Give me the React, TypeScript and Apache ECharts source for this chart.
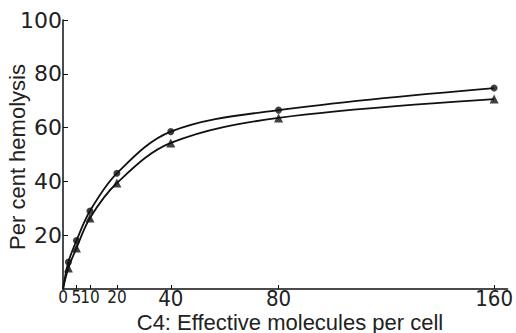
import React, { useEffect, useRef } from "react";
import * as echarts from "echarts";

const doses = [2, 5, 10, 20, 40, 80, 160];
const circleHemolysis = [10, 18, 29, 43, 58.5, 66.5, 74.7];
const triangleHemolysis = [7.8, 15.2, 26.4, 39.4, 54.3, 63.6, 70.6];
const curveOrigin = [0, 0];
const xTickValues = [0, 5, 10, 20, 40, 80, 160];
const smallXLabels = [0, 5, 10, 20];
const yTickValues = [20, 40, 60, 80, 100];
const xTitle = "C4: Effective molecules per cell";
const yTitle = "Per cent hemolysis";

const NARROW = "'Liberation Sans Narrow', 'DejaVu Sans Condensed', sans-serif";
const INK = "#111";
const TEXT = "#222";

export default function App() {
  const ref = useRef<HTMLDivElement>(null);
  useEffect(() => {
    if (!ref.current) return;
    const chart = echarts.init(ref.current, undefined, { renderer: "svg" });
    const circlePts = doses.map((d, i) => [d, circleHemolysis[i]]);
    const trianglePts = doses.map((d, i) => [d, triangleHemolysis[i]]);
    chart.setOption({
      animation: false,
      backgroundColor: "#fff",
      grid: { left: 63, right: 5.4, top: 20, bottom: 44, containLabel: false },
      xAxis: {
        type: "value",
        min: 0,
        max: 165,
        axisLine: { show: true, lineStyle: { color: INK, width: 1.5 } },
        axisTick: {
          show: true,
          inside: true,
          length: 4,
          customValues: xTickValues,
          lineStyle: { color: INK, width: 1 },
        },
        axisLabel: {
          customValues: xTickValues,
          margin: -2,
          color: TEXT,
          fontFamily: NARROW,
          fontSize: 22,
          lineHeight: 22,
          formatter: (v: number) =>
            smallXLabels.includes(v) ? `{s|${v}}` : `${v}`,
          rich: {
            s: { fontSize: 17, lineHeight: 20, fontFamily: NARROW, color: TEXT },
          },
        },
        splitLine: { show: false },
      },
      yAxis: {
        type: "value",
        min: 0,
        max: 100,
        axisLine: { show: true, lineStyle: { color: INK, width: 1.5 } },
        axisTick: {
          show: true,
          inside: true,
          length: 5,
          customValues: yTickValues,
          lineStyle: { color: INK, width: 1 },
        },
        axisLabel: {
          customValues: yTickValues,
          margin: 1,
          color: TEXT,
          fontFamily: "'DejaVu Sans', sans-serif",
          fontSize: 22,
        },
        splitLine: { show: false },
      },
      graphic: [
        {
          type: "text",
          x: 290,
          y: 322,
          style: {
            text: xTitle,
            fill: TEXT,
            font: "22px 'Liberation Sans', sans-serif",
            lineHeight: 22,
            textAlign: "center",
            textVerticalAlign: "middle",
          },
        },
        {
          type: "text",
          x: 17,
          y: 157,
          rotation: Math.PI / 2,
          style: {
            text: yTitle,
            fill: TEXT,
            font: "22px 'Liberation Sans', sans-serif",
            textAlign: "center",
            textVerticalAlign: "middle",
          },
        },
      ],
      series: [
        {
          type: "line",
          data: [curveOrigin, ...circlePts],
          smooth: 0.35,
          showSymbol: false,
          lineStyle: { color: INK, width: 1.8 },
          silent: true,
        },
        {
          type: "line",
          data: [curveOrigin, ...trianglePts],
          smooth: 0.35,
          showSymbol: false,
          lineStyle: { color: INK, width: 1.8 },
          silent: true,
        },
        {
          type: "scatter",
          data: circlePts,
          symbol: "circle",
          symbolSize: 7,
          itemStyle: { color: INK },
        },
        {
          type: "scatter",
          data: trianglePts,
          symbol: "triangle",
          symbolSize: 9,
          itemStyle: { color: INK },
        },
      ],
    });
    return () => chart.dispose();
  }, []);
  return (
    <div
      ref={ref}
      style={{ position: "fixed", left: 0, top: 0, width: 516, height: 333 }}
    />
  );
}
